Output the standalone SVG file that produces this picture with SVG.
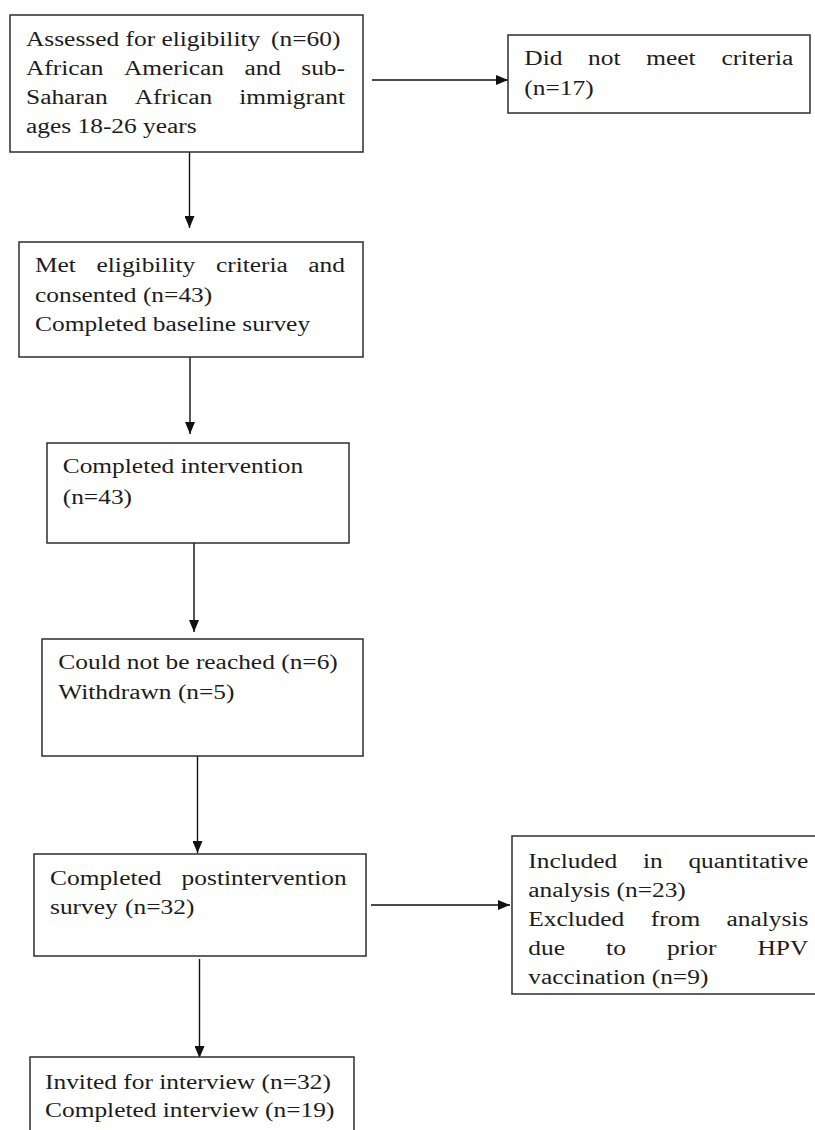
<svg xmlns="http://www.w3.org/2000/svg" width="815" height="1130" viewBox="0 0 815 1130">
<style>
.box{fill:#ffffff;stroke:#2e2e2e;stroke-width:1.5}
.t{font-family:'Liberation Serif','Times New Roman',serif;font-size:20px;fill:#1c1c1c}
.e{text-anchor:end}
.c{stroke:#111;stroke-width:1.4;fill:none;marker-end:url(#ah)}
</style>
<defs>
<marker id="ah" markerUnits="userSpaceOnUse" markerWidth="12" markerHeight="10" refX="12" refY="5" orient="auto">
<path d="M0,0 L12,5 L0,10 z" fill="#111"/>
</marker>
</defs>
<rect width="815" height="1130" fill="#ffffff"/>
<g id="connectors">
<line class="c" x1="372" y1="80" x2="508" y2="80"/>
<line class="c" x1="189.5" y1="152" x2="189.5" y2="228"/>
<line class="c" x1="190" y1="357" x2="190" y2="434"/>
<line class="c" x1="194" y1="533" x2="194" y2="632"/>
<line class="c" x1="197.5" y1="753" x2="197.5" y2="853"/>
<line class="c" x1="371" y1="905" x2="510" y2="905"/>
<line class="c" x1="199.5" y1="959" x2="199.5" y2="1058"/>
</g>
<g id="node-assessed">
<rect class="box" x="10" y="15" width="353" height="137"/>
<text class="t" transform="translate(26,46) scale(1.27,1)">Assessed for eligibility</text>
<text class="t" transform="translate(271,46) scale(1.27,1)">(n=60)</text>
<text class="t" transform="translate(26,75) scale(1.27,1)">African</text>
<text class="t" transform="translate(123.9,75) scale(1.27,1)">American</text>
<text class="t" transform="translate(244.4,75) scale(1.27,1)">and</text>
<text class="t e" transform="translate(345,75) scale(1.27,1)">sub-</text>
<text class="t" transform="translate(26,104) scale(1.27,1)">Saharan</text>
<text class="t" transform="translate(134.7,104) scale(1.27,1)">African</text>
<text class="t e" transform="translate(345,104) scale(1.27,1)">immigrant</text>
<text class="t" transform="translate(26,133) scale(1.27,1)">ages 18-26 years</text>
</g>
<g id="node-not-met">
<rect class="box" x="508" y="35" width="302" height="78"/>
<text class="t" transform="translate(524.3,65) scale(1.27,1)">Did</text>
<text class="t" transform="translate(588.1,65) scale(1.27,1)">not</text>
<text class="t" transform="translate(646.3,65) scale(1.27,1)">meet</text>
<text class="t e" transform="translate(793.3,65) scale(1.27,1)">criteria</text>
<text class="t" transform="translate(524.3,95) scale(1.27,1)">(n=17)</text>
</g>
<g id="node-met">
<rect class="box" x="19" y="242" width="344" height="115"/>
<text class="t" transform="translate(35,272) scale(1.27,1)">Met</text>
<text class="t" transform="translate(96.5,272) scale(1.27,1)">eligibility</text>
<text class="t" transform="translate(215.9,272) scale(1.27,1)">criteria</text>
<text class="t e" transform="translate(345,272) scale(1.27,1)">and</text>
<text class="t" transform="translate(35,301.5) scale(1.27,1)">consented (n=43)</text>
<text class="t" transform="translate(35,330.5) scale(1.27,1)">Completed baseline survey</text>
</g>
<g id="node-intervention">
<rect class="box" x="47" y="443" width="302" height="100"/>
<text class="t" transform="translate(62.7,473) scale(1.27,1)">Completed intervention</text>
<text class="t" transform="translate(62.7,504) scale(1.27,1)">(n=43)</text>
</g>
<g id="node-lost">
<rect class="box" x="42" y="639" width="321" height="117"/>
<text class="t" transform="translate(58.3,668.5) scale(1.27,1)">Could not be reached (n=6)</text>
<text class="t" transform="translate(58.3,698.5) scale(1.27,1)">Withdrawn (n=5)</text>
</g>
<g id="node-post">
<rect class="box" x="34" y="854" width="332" height="102"/>
<text class="t" transform="translate(50,885) scale(1.27,1)">Completed</text>
<text class="t e" transform="translate(346.7,885) scale(1.27,1)">postintervention</text>
<text class="t" transform="translate(50,914) scale(1.27,1)">survey</text>
<text class="t" transform="translate(125,914) scale(1.27,1)">(n=32)</text>
</g>
<g id="node-analysis">
<rect class="box" x="512" y="836" width="310" height="158"/>
<text class="t" transform="translate(528.3,868) scale(1.27,1)">Included</text>
<text class="t" transform="translate(642.9,868) scale(1.27,1)">in</text>
<text class="t e" transform="translate(808.3,868) scale(1.27,1)">quantitative</text>
<text class="t" transform="translate(528.3,897) scale(1.27,1)">analysis (n=23)</text>
<text class="t" transform="translate(528.3,926) scale(1.27,1)">Excluded</text>
<text class="t" transform="translate(650.8,926) scale(1.27,1)">from</text>
<text class="t e" transform="translate(808.3,926) scale(1.27,1)">analysis</text>
<text class="t" transform="translate(528.3,955) scale(1.27,1)">due</text>
<text class="t" transform="translate(606.1,955) scale(1.27,1)">to</text>
<text class="t" transform="translate(667,955) scale(1.27,1)">prior</text>
<text class="t e" transform="translate(808.3,955) scale(1.27,1)">HPV</text>
<text class="t" transform="translate(528.3,983.5) scale(1.27,1)">vaccination (n=9)</text>
</g>
<g id="node-interview">
<rect class="box" x="30" y="1057" width="324" height="90"/>
<text class="t" transform="translate(45,1088.5) scale(1.27,1)">Invited for interview (n=32)</text>
<text class="t" transform="translate(45,1116.5) scale(1.27,1)">Completed interview (n=19)</text>
</g>
</svg>
